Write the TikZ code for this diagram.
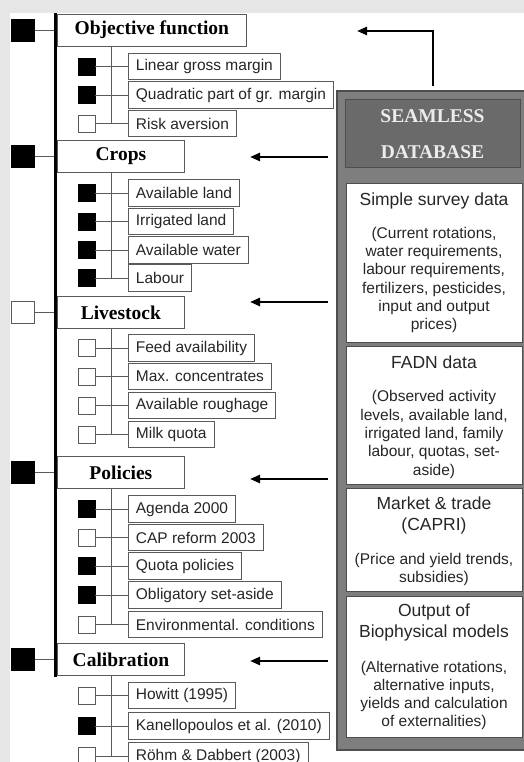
\documentclass[tikz,border=0pt]{standalone}
\usepackage{fontspec}
\setmainfont{Liberation Serif}
\setsansfont{Liberation Sans}
\usetikzlibrary{arrows.meta,calc}

\definecolor{pagegray}{HTML}{E6E6E6}
\definecolor{linegray}{HTML}{5A5A5A}
\definecolor{dbgray}{HTML}{7E7E7E}
\definecolor{dbdark}{HTML}{6A6A6A}
\definecolor{dbedge}{HTML}{4E4E4E}
\definecolor{txtgray}{HTML}{262626}
\definecolor{dbtext}{HTML}{ECECEC}

\tikzset{
  head/.style={draw=linegray, line width=0.8pt, fill=white, anchor=west,
    minimum height=32, minimum width=127, inner sep=0,
    font=\bfseries\fontsize{19.5}{22}\selectfont},
  item/.style={draw=linegray, line width=0.8pt, fill=white, anchor=west,
    minimum height=26.5, inner xsep=7.5, inner ysep=0,
    font=\sffamily\fontsize{15.5}{18}\selectfont, text=txtgray},
  bigon/.style={draw=black, fill=black, minimum width=23, minimum height=22, inner sep=0},
  bigoff/.style={draw=linegray, fill=white, line width=0.8pt, minimum width=23, minimum height=22, inner sep=0},
  sqon/.style={draw=black, fill=black, minimum size=17, inner sep=0},
  sqoff/.style={draw=linegray, fill=white, line width=0.8pt, minimum size=17, inner sep=0},
  link/.style={draw=linegray, line width=0.8pt},
  spine/.style={draw=black, line width=2.2pt},
  feed/.style={draw=black, line width=2.4pt, line join=miter,
    -{Triangle[length=10pt,width=8pt]}},
  dbouter/.style={draw=dbedge, line width=1.5pt, fill=dbgray, inner sep=0},
  dbhead/.style={draw=dbedge, line width=1pt, fill=dbdark, inner sep=0,
    minimum width=175, minimum height=68},
  dbbox/.style={draw=dbedge, line width=1pt, fill=white, inner sep=0, minimum width=176},
  dbtitle/.style={font=\sffamily\fontsize{17.5}{21}\selectfont, text=txtgray, align=center},
  dbbody/.style={font=\sffamily\fontsize{15.5}{18.3}\selectfont, text=txtgray, align=center},
}

\begin{document}
\begin{tikzpicture}[x=1pt,y=-1pt]
\useasboundingbox (0,0) rectangle (524,762);
\fill[pagegray] (0,0) rectangle (524,762);
\fill[white] (10,13) rectangle (524,762);

% ---------- category headers ----------
\node[head, minimum width=189] (hObj) at (57,30) {Objective function};
\node[head] (hCrp) at (57,156.5) {Crops};
\node[head] (hLiv) at (57,312.5) {Livestock};
\node[head] (hPol) at (57,472.5) {Policies};
\node[head] (hCal) at (57,659.5) {Calibration};

% ---------- big selection squares ----------
\foreach \h/\st in {hObj/bigon, hCrp/bigon, hLiv/bigoff, hPol/bigon, hCal/bigon}{
  \node[\st] (B-\h) at (22.5,0 |- \h.west) {};
  \draw[link] (B-\h.east) -- (\h.west);
  \node[\st] at (B-\h) {};
}

% ---------- main spine ----------
\draw[spine] ([xshift=-1.5pt,yshift=1pt]hObj.north west) -- ([xshift=-1.5pt,yshift=-1pt]hCal.south west);

% ---------- sub items ----------
\foreach \nm/\yy/\st/\tx in {
  lgm/66.5/sqon/Linear gross margin,
  qgm/95/sqon/Quadratic part of gr. margin,
  ria/123.5/sqoff/Risk aversion,
  avl/193/sqon/Available land,
  irl/221.5/sqon/Irrigated land,
  avw/250/sqon/Available water,
  lab/278/sqon/Labour,
  fee/348/sqoff/Feed availability,
  mxc/376.5/sqoff/Max. concentrates,
  avr/405.5/sqoff/Available roughage,
  mlk/434.5/sqoff/Milk quota,
  agd/509/sqon/Agenda 2000,
  cap/537.5/sqoff/CAP reform 2003,
  quo/566/sqon/Quota policies,
  obl/595/sqon/Obligatory set-aside,
  env/624.5/sqoff/Environmental. conditions,
  how/695.5/sqoff/Howitt (1995),
  kan/726/sqon/Kanellopoulos et al. (2010),
  roh/756/sqoff/R\"ohm \& Dabbert (2003)}{
  \node[\st] (s-\nm) at (86.5,\yy) {};
  \node[item] (b-\nm) at (128,\yy) {\tx};
  \draw[link] (s-\nm.east) -- (b-\nm.west);
  \coordinate (j-\nm) at ($(s-\nm.east)!0.5!(b-\nm.west)$);
}

% ---------- branch lines from each header ----------
\draw[link] (hObj.south -| j-ria) -- (j-ria);
\draw[link] (hCrp.south -| j-lab) -- (j-lab);
\draw[link] (hLiv.south -| j-mlk) -- (j-mlk);
\draw[link] (hPol.south -| j-env) -- (j-env);
\draw[link] (hCal.south -| j-roh) -- (j-roh);

% ---------- database column ----------
\node[dbouter, minimum width=188, minimum height=659] (db) at (431,420.5) {};
\node[dbhead] (dbh) at (432.5,134) {};
\node[font=\bfseries\fontsize{19.5}{36}\selectfont, text=dbtext, align=center] (dbt) at (dbh)
  {SEAMLESS\\DATABASE};

\node[dbbox, minimum height=159] (sv) at (434,262.5) {};
\node[dbtitle] (svt) at (434,201) {Simple survey data};
\node[dbbody] (svb) at (434,280) {(Current rotations,\\water requirements,\\labour requirements,\\fertilizers, pesticides,\\input and output\\prices)};

\node[dbbox, minimum height=138] (fa) at (434,415) {};
\node[dbtitle] (fat) at (434,362) {FADN data};
\node[dbbody] (fab) at (434,434.5) {(Observed activity\\levels, available land,\\irrigated land, family\\labour, quotas, set-\\aside)};

\node[dbbox, minimum height=103] (mk) at (434,539.5) {};
\node[dbtitle] (mkt) at (434,515.5) {Market \& trade\\(CAPRI)};
\node[dbbody] (mkb) at (434,569.5) {(Price and yield trends,\\subsidies)};

\node[dbbox, minimum height=141] (op) at (434,666.5) {};
\node[dbtitle] (opt) at (434,622.5) {Output of\\Biophysical models};
\node[dbbody] (opb) at (434,695.5) {(Alternative rotations,\\alternative inputs,\\yields and calculation\\of externalities)};

% ---------- feeding arrows ----------
\coordinate (u0) at (433,86);
\coordinate (u1) at (433,31);
\coordinate (u2) at (357,31);
\draw[feed] (u0) -- (u1) -- (u2);

\foreach \yy/\nm in {157/crp, 302/liv, 479/pol, 661/cal}{
  \coordinate (a0-\nm) at (328,\yy);
  \coordinate (a1-\nm) at (250,\yy);
  \draw[feed] (a0-\nm) -- (a1-\nm);
}
\end{tikzpicture}
\end{document}
